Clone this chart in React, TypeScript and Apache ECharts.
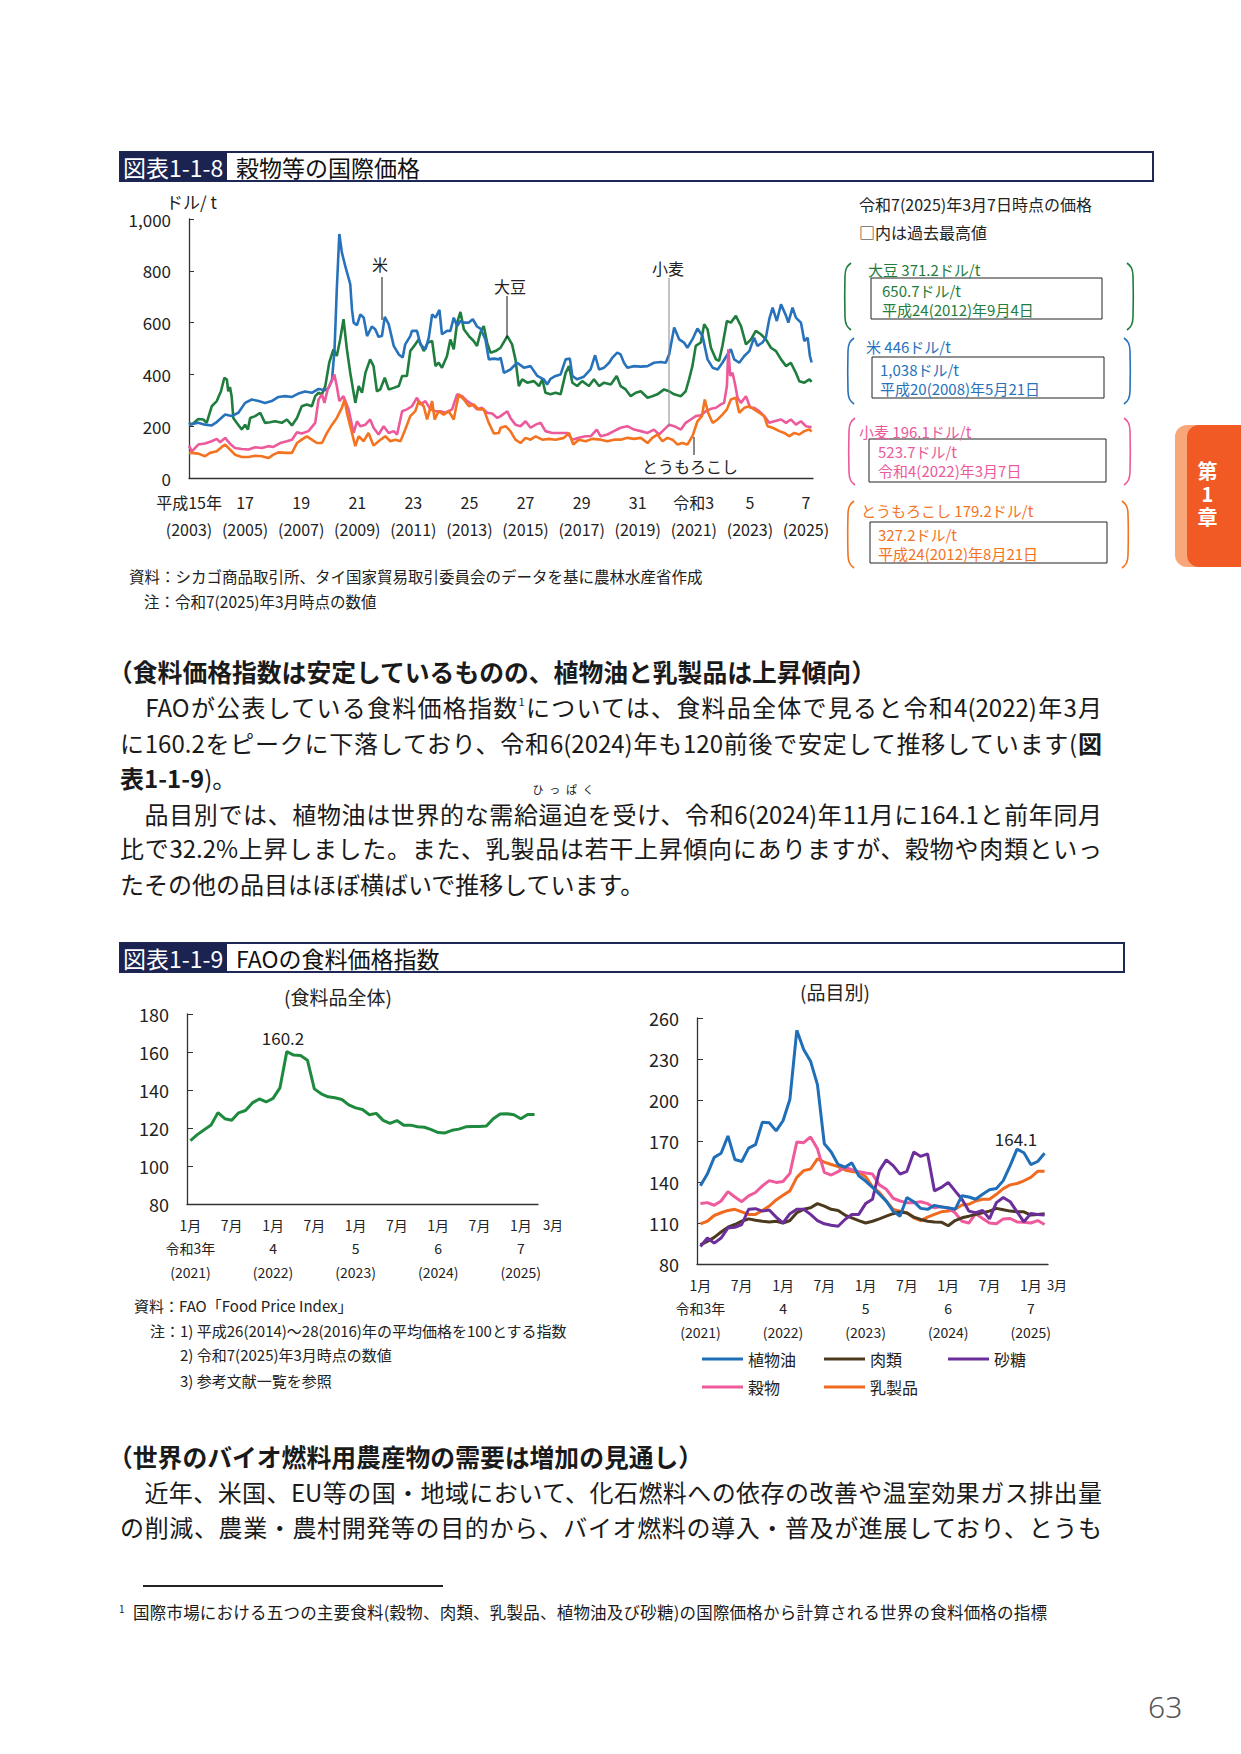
import React, { useEffect, useRef } from "react";
import * as echarts from "echarts";

const FONT = '"Noto Sans CJK JP", "Noto Sans", sans-serif';

// ---------------- 図表1-1-8 (USD/t, [decimal year, price]) ----------------
const RICE: [number, number][] = [
  [2003.0, 206], [2003.33, 213], [2003.57, 206], [2003.81, 203], [2003.99, 216], [2004.29, 245], [2004.52, 239],
  [2004.76, 252], [2005.0, 290], [2005.24, 303], [2005.48, 297], [2005.71, 290], [2005.95, 297], [2006.19, 313],
  [2006.43, 316], [2006.67, 313], [2006.9, 326], [2007.14, 334], [2007.38, 329], [2007.62, 344], [2007.86, 339],
  [2007.98, 348], [2008.1, 380], [2008.19, 497], [2008.27, 729], [2008.36, 942], [2008.45, 871], [2008.57, 819],
  [2008.75, 748], [2008.81, 652], [2008.87, 600], [2008.99, 590], [2009.11, 632], [2009.23, 619], [2009.35, 548],
  [2009.52, 585], [2009.64, 574], [2009.76, 545], [2009.88, 548], [2009.98, 622], [2010.12, 594], [2010.3, 510],
  [2010.48, 477], [2010.62, 465], [2010.71, 516], [2010.89, 548], [2010.95, 568], [2011.13, 568], [2011.25, 516],
  [2011.43, 497], [2011.55, 542], [2011.67, 632], [2011.79, 619], [2011.93, 649], [2012.02, 555], [2012.2, 568],
  [2012.32, 568], [2012.44, 619], [2012.56, 587], [2012.68, 606], [2012.8, 600], [2012.98, 600], [2013.12, 613],
  [2013.27, 585], [2013.39, 577], [2013.57, 535], [2013.69, 458], [2013.87, 461], [2014.05, 458], [2014.11, 465],
  [2014.23, 406], [2014.46, 419], [2014.7, 445], [2014.94, 426], [2015.18, 432], [2015.42, 394], [2015.65, 381],
  [2015.77, 361], [2015.89, 383], [2016.07, 394], [2016.25, 400], [2016.43, 458], [2016.58, 461], [2016.67, 394],
  [2016.84, 381], [2017.08, 391], [2017.32, 419], [2017.48, 474], [2017.62, 419], [2017.8, 426], [2017.98, 445],
  [2018.1, 465], [2018.27, 484], [2018.39, 477], [2018.51, 445], [2018.63, 426], [2018.87, 432], [2019.11, 430],
  [2019.35, 432], [2019.58, 445], [2019.82, 448], [2020.0, 445], [2020.12, 477], [2020.3, 581], [2020.48, 535],
  [2020.65, 523], [2020.77, 503], [2020.95, 535], [2021.13, 577], [2021.31, 548], [2021.49, 458], [2021.67, 426],
  [2021.85, 419], [2022.02, 445], [2022.2, 477], [2022.32, 497], [2022.44, 458], [2022.62, 445], [2022.8, 471],
  [2022.98, 490], [2023.15, 542], [2023.27, 510], [2023.45, 523], [2023.57, 542], [2023.69, 613], [2023.81, 658],
  [2023.96, 606], [2024.11, 671], [2024.29, 626], [2024.37, 600], [2024.52, 658], [2024.64, 619], [2024.82, 600],
  [2024.94, 529], [2025.06, 542], [2025.14, 471], [2025.2, 446],
];
const SOYBEAN: [number, number][] = [
  [2003.0, 213], [2003.1, 206], [2003.33, 228], [2003.51, 226], [2003.63, 213], [2003.81, 277], [2003.99, 297],
  [2004.14, 335], [2004.26, 387], [2004.35, 380], [2004.4, 335], [2004.46, 351], [2004.52, 316], [2004.58, 232],
  [2004.7, 213], [2004.88, 187], [2005.0, 206], [2005.1, 187], [2005.18, 232], [2005.36, 239], [2005.54, 252],
  [2005.71, 213], [2005.89, 215], [2006.07, 219], [2006.31, 213], [2006.49, 226], [2006.67, 203], [2006.85, 232],
  [2007.02, 277], [2007.2, 284], [2007.38, 277], [2007.5, 316], [2007.62, 329], [2007.74, 323], [2007.86, 355],
  [2008.0, 445], [2008.15, 497], [2008.27, 471], [2008.39, 535], [2008.51, 613], [2008.63, 497], [2008.75, 406],
  [2008.93, 290], [2009.05, 355], [2009.17, 329], [2009.29, 406], [2009.46, 458], [2009.58, 432], [2009.7, 335],
  [2009.82, 342], [2009.98, 387], [2010.12, 342], [2010.3, 348], [2010.48, 355], [2010.6, 394], [2010.77, 394],
  [2010.89, 490], [2011.07, 516], [2011.19, 535], [2011.37, 490], [2011.52, 523], [2011.67, 529], [2011.79, 432],
  [2011.9, 445], [2012.02, 426], [2012.2, 471], [2012.32, 535], [2012.44, 497], [2012.56, 600], [2012.68, 641],
  [2012.8, 574], [2012.98, 548], [2013.15, 529], [2013.27, 510], [2013.39, 561], [2013.51, 587], [2013.63, 523],
  [2013.75, 484], [2013.93, 490], [2014.11, 503], [2014.35, 548], [2014.52, 516], [2014.64, 458], [2014.76, 355],
  [2014.88, 381], [2015.06, 368], [2015.3, 374], [2015.48, 355], [2015.6, 381], [2015.71, 329], [2015.89, 323],
  [2016.07, 329], [2016.25, 323], [2016.43, 406], [2016.55, 432], [2016.67, 368], [2016.84, 355], [2017.02, 374],
  [2017.26, 355], [2017.44, 381], [2017.62, 355], [2017.8, 368], [2018.04, 361], [2018.25, 394], [2018.39, 355],
  [2018.57, 342], [2018.75, 316], [2018.93, 329], [2019.11, 335], [2019.35, 310], [2019.52, 316], [2019.7, 323],
  [2019.94, 342], [2020.12, 335], [2020.3, 323], [2020.54, 316], [2020.71, 335], [2020.83, 381], [2020.95, 432],
  [2021.07, 510], [2021.25, 523], [2021.37, 594], [2021.49, 574], [2021.61, 503], [2021.79, 458], [2021.9, 452],
  [2022.02, 510], [2022.18, 606], [2022.32, 600], [2022.5, 626], [2022.68, 587], [2022.86, 516], [2023.04, 535],
  [2023.21, 568], [2023.39, 555], [2023.57, 535], [2023.75, 503], [2023.93, 490], [2024.11, 458], [2024.29, 432],
  [2024.46, 445], [2024.64, 406], [2024.76, 374], [2024.94, 368], [2025.12, 381], [2025.2, 371],
];
const WHEAT: [number, number][] = [
  [2003.0, 125], [2003.1, 103], [2003.33, 129], [2003.57, 133], [2003.81, 142], [2003.99, 151], [2004.11, 138],
  [2004.29, 155], [2004.46, 132], [2004.64, 116], [2004.88, 112], [2005.12, 110], [2005.36, 119], [2005.6, 116],
  [2005.83, 123], [2006.01, 120], [2006.25, 135], [2006.49, 142], [2006.67, 148], [2006.85, 177], [2007.02, 172],
  [2007.26, 181], [2007.5, 213], [2007.62, 303], [2007.74, 323], [2007.83, 290], [2007.95, 345], [2008.07, 368],
  [2008.18, 400], [2008.27, 355], [2008.36, 297], [2008.51, 316], [2008.69, 265], [2008.87, 174], [2008.99, 219],
  [2009.11, 200], [2009.29, 206], [2009.46, 226], [2009.58, 194], [2009.76, 168], [2009.94, 200], [2010.12, 174],
  [2010.3, 181], [2010.42, 168], [2010.6, 258], [2010.77, 265], [2010.95, 277], [2011.13, 310], [2011.25, 284],
  [2011.43, 297], [2011.61, 265], [2011.79, 258], [2011.96, 258], [2012.14, 252], [2012.38, 265], [2012.56, 323],
  [2012.74, 316], [2012.92, 297], [2013.1, 284], [2013.27, 265], [2013.45, 271], [2013.63, 252], [2013.81, 249],
  [2013.99, 232], [2014.11, 239], [2014.35, 258], [2014.46, 232], [2014.64, 206], [2014.82, 200], [2015.0, 219],
  [2015.18, 194], [2015.36, 206], [2015.54, 213], [2015.71, 181], [2015.95, 174], [2016.25, 174], [2016.49, 174],
  [2016.67, 148], [2016.9, 155], [2017.14, 161], [2017.32, 161], [2017.54, 187], [2017.68, 161], [2017.92, 168],
  [2018.15, 181], [2018.39, 194], [2018.63, 200], [2018.87, 187], [2019.11, 181], [2019.35, 174], [2019.58, 187],
  [2019.76, 168], [2019.94, 187], [2020.12, 206], [2020.3, 200], [2020.54, 187], [2020.71, 213], [2020.89, 226],
  [2021.07, 239], [2021.25, 242], [2021.43, 258], [2021.61, 267], [2021.79, 271], [2021.96, 284], [2022.08, 290],
  [2022.18, 355], [2022.23, 497], [2022.3, 394], [2022.38, 406], [2022.46, 368], [2022.56, 310], [2022.68, 290],
  [2022.86, 316], [2023.01, 271], [2023.15, 271], [2023.33, 258], [2023.51, 239], [2023.69, 213], [2023.87, 219],
  [2024.11, 226], [2024.29, 213], [2024.46, 226], [2024.64, 206], [2024.82, 219], [2025.0, 200], [2025.2, 196],
];
const CORN: [number, number][] = [
  [2003.0, 97], [2003.1, 97], [2003.33, 94], [2003.57, 84], [2003.75, 97], [2003.99, 103], [2004.17, 120],
  [2004.29, 129], [2004.46, 110], [2004.64, 90], [2004.88, 81], [2005.12, 81], [2005.36, 86], [2005.6, 84],
  [2005.83, 77], [2006.01, 90], [2006.19, 99], [2006.43, 97], [2006.67, 97], [2006.85, 135], [2007.02, 148],
  [2007.2, 161], [2007.38, 148], [2007.56, 135], [2007.74, 135], [2007.92, 174], [2008.1, 206], [2008.27, 232],
  [2008.45, 271], [2008.55, 303], [2008.63, 252], [2008.75, 200], [2008.93, 123], [2009.05, 161], [2009.23, 142],
  [2009.4, 174], [2009.58, 125], [2009.76, 142], [2010.0, 161], [2010.18, 142], [2010.36, 148], [2010.54, 142],
  [2010.71, 187], [2010.89, 239], [2011.07, 258], [2011.19, 297], [2011.37, 277], [2011.49, 226], [2011.67, 297],
  [2011.76, 226], [2011.9, 258], [2012.08, 245], [2012.26, 258], [2012.44, 226], [2012.52, 271], [2012.62, 323],
  [2012.8, 303], [2012.98, 277], [2013.15, 284], [2013.33, 265], [2013.51, 265], [2013.69, 213], [2013.87, 172],
  [2014.05, 174], [2014.11, 194], [2014.29, 200], [2014.46, 181], [2014.64, 148], [2014.82, 135], [2015.0, 155],
  [2015.18, 148], [2015.36, 161], [2015.6, 148], [2015.83, 151], [2016.07, 148], [2016.37, 155], [2016.55, 174],
  [2016.7, 129], [2016.9, 148], [2017.14, 142], [2017.38, 151], [2017.68, 148], [2017.92, 142], [2018.15, 148],
  [2018.39, 148], [2018.63, 155], [2018.87, 151], [2019.11, 155], [2019.35, 135], [2019.52, 155], [2019.7, 168],
  [2019.88, 142], [2020.06, 155], [2020.24, 148], [2020.42, 129], [2020.59, 135], [2020.77, 129], [2020.95, 161],
  [2021.13, 219], [2021.29, 239], [2021.39, 303], [2021.51, 252], [2021.67, 213], [2021.85, 226], [2022.02, 245],
  [2022.18, 265], [2022.32, 303], [2022.5, 310], [2022.62, 252], [2022.8, 271], [2022.98, 277], [2023.15, 265],
  [2023.33, 252], [2023.51, 239], [2023.63, 200], [2023.81, 194], [2024.05, 181], [2024.23, 174], [2024.4, 161],
  [2024.58, 174], [2024.76, 168], [2024.94, 181], [2025.12, 187], [2025.2, 179],
];
const YEAR_TICKS = [2003, 2005, 2007, 2009, 2011, 2013, 2015, 2017, 2019, 2021, 2023, 2025];
const ERA_LABELS = ["平成15年", "17", "19", "21", "23", "25", "27", "29", "31", "令和3", "5", "7"];

// ---------------- 図表1-1-9 (FAO index, monthly Jan 2021 – Mar 2025) ----------------
const FOOD_INDEX = [
  113.4, 116.5, 119.1, 121.6, 128.1, 124.9, 124.1, 128.0, 129.2, 133.2, 135.3, 133.7,
  135.6, 141.1, 160.2, 158.4, 158.1, 155.7, 140.6, 138.0, 136.4, 135.9, 135.0, 132.2,
  130.6, 129.7, 127.0, 127.7, 124.0, 122.4, 123.9, 121.4, 121.5, 120.7, 120.4, 119.1,
  117.6, 117.4, 118.8, 119.4, 120.6, 120.8, 120.8, 121.0, 124.9, 127.4, 127.5, 127.0,
  124.9, 127.1, 127.1,
];
const VEG_OIL = [
  137.2, 145.8, 158, 161, 173.7, 156.5, 155, 164.8, 167.3, 183.8, 183.3, 177.4,
  184.8, 200.6, 251, 237, 228.4, 211.2, 168, 161.9, 152.8, 150.8, 154, 144.6,
  140.7, 136, 131, 126, 118.7, 115, 128.6, 125.6, 120.7, 120, 122.9, 121.7,
  121.2, 120, 130, 129, 127.4, 131, 134.3, 135.2, 141, 152, 164.1, 161.4,
  152.8, 155, 161,
];
const MEAT = [
  94, 96.5, 99.5, 103.4, 106.9, 108.9, 111.3, 113, 112, 111.3, 110.8, 111.3,
  110, 111.8, 117.5, 120, 121.2, 124.2, 122.4, 120, 119.2, 115.8, 113.8, 111.8,
  110, 111.3, 113, 115, 116.8, 118, 117.3, 114.3, 112.6, 111.3, 110.8, 110.6,
  108, 111.8, 113.8, 115, 116.3, 117.5, 118.7, 120.7, 119.7, 118.7, 118.2, 118.2,
  115.8, 116.3, 116.8,
];
const SUGAR = [
  92.8, 99, 95.3, 99, 106.4, 106.9, 108.9, 120, 120.5, 118.7, 119.5, 114.3,
  110, 116.8, 120, 120, 116.3, 111.8, 109.4, 108.4, 107.6, 112.6, 116.3, 116.3,
  124.2, 127.4, 148.3, 156.2, 152, 145.8, 147.8, 161.9, 158.7, 160.6, 133.5, 136,
  139.7, 133.5, 127.4, 118.7, 117.5, 119.2, 113, 124.9, 128.6, 125.6, 118.2, 110.8,
  117, 116.3, 115.8,
];
const CEREALS = [
  124.2, 124.9, 123, 126.1, 133, 129, 125.6, 129.8, 132.3, 137.2, 141, 139.7,
  140.4, 146.3, 169.3, 168.8, 173, 164.3, 147.1, 145.1, 147.6, 150.8, 149.1, 147.6,
  146.6, 145.8, 137.9, 134.7, 128.1, 126.1, 124.9, 124.9, 125.6, 124.2, 121.2, 122,
  120.7, 117.5, 111.3, 110, 116.8, 113.3, 110, 109.4, 113, 113.3, 110.8, 110.6,
  110, 111.8, 108.9,
];
const DAIRY = [
  109.4, 111.3, 115.5, 117.5, 119.2, 120, 118.2, 116.3, 116.3, 119.2, 122.4, 126.9,
  130.3, 133.5, 143.4, 148.3, 149.5, 156.9, 154.5, 152.8, 151.3, 148.8, 147.6, 147.1,
  143.9, 136.5, 132.3, 126.1, 120, 118.7, 117.5, 113.8, 111.8, 114.3, 116.3, 118.2,
  118.7, 120, 123.2, 123.7, 126.1, 127.4, 127.4, 131, 135.2, 137.9, 138.9, 140.9,
  143.4, 147.8, 147.8,
];
const MONTHS: string[] = [];
for (let y = 2021; y <= 2025; y++) for (let m = 1; m <= 12; m++) if (y < 2025 || m <= 3) MONTHS.push(`${y}-${m}`);
const MONTH_AXIS_TEXT: Record<number, string> = {
  0: "1月\n令和3年\n(2021)", 6: "7月", 12: "1月\n4\n(2022)", 18: "7月", 24: "1月\n5\n(2023)",
  30: "7月", 36: "1月\n6\n(2024)", 42: "7月", 48: "1月\n7\n(2025)",
};
const LAST_MONTH_LABEL = "3月";
const CAT_TICKS = [80, 110, 140, 170, 200, 230, 260];

const C = {
  soy: "#1f7d3d", rice: "#2872bc", wheat: "#ec5a9b", corn: "#f3731f",
  food: "#1e8a3e", oil: "#1f6fb8", meat: "#4b3a1e", sugar: "#6c2e9b", cereal: "#ee5a9c", dairy: "#f06b1f",
  navy: "#1d2857",
};

function txt(x: number, y: number, text: string, o: any = {}) {
  return {
    type: "text", x, y, silent: true, z: 10,
    style: {
      text, fill: o.fill || "#222", fontSize: o.size || 16, fontFamily: FONT,
      fontWeight: o.weight || "normal", align: o.align || "left", verticalAlign: "middle",
    },
  };
}
function rect(x: number, y: number, w: number, h: number, style: any) {
  return { type: "rect", silent: true, z: 5, shape: { x, y, width: w, height: h }, style };
}
function seg(x1: number, y1: number, x2: number, y2: number, stroke = "#111", lw = 1) {
  return { type: "line", silent: true, z: 9, shape: { x1, y1, x2, y2 }, style: { stroke, lineWidth: lw } };
}
function bracket(x: number, top: number, bottom: number, color: string, dir: number) {
  const d = dir; // 1: left "(", -1: right ")"
  return {
    type: "polyline", silent: true, z: 9,
    shape: { points: [[x + 6 * d, top], [x + 1.5 * d, top + 5], [x, top + 13], [x, bottom - 13], [x + 1.5 * d, bottom - 5], [x + 6 * d, bottom]], smooth: 0.4 },
    style: { stroke: color, lineWidth: 1.6, fill: "none" },
  };
}
function header(y: number, right: number, label: string, title: string) {
  return [
    rect(120, y, right - 120, 29, { fill: "#fff", stroke: C.navy, lineWidth: 2 }),
    rect(120, y, 107, 29, { fill: "#1b2450" }),
    txt(123, y + 15, label, { fill: "#fff", size: 23 }),
    txt(236, y + 15, title, { fill: "#111", size: 23 }),
  ];
}
function priceBox(top: number, bottom: number, lx: number, rx: number, color: string, head: [number, number, string],
  box: [number, number, number, number], l1: string, l2: string, tx: number) {
  return [
    bracket(lx, top, bottom, color, 1),
    bracket(rx, top, bottom, color, -1),
    txt(head[0], head[1], head[2], { fill: color, size: 15 }),
    rect(box[0], box[1], box[2] - box[0], box[3] - box[1], { fill: "none", stroke: "#222", lineWidth: 1 }),
    txt(tx, box[1] + 12, l1, { fill: color, size: 15 }),
    txt(tx, box[1] + 31, l2, { fill: color, size: 15 }),
  ];
}

function buildOption(): any {
  const monthAxis = (gridIndex: number) => ({
    type: "category", gridIndex, data: MONTHS, boundaryGap: true,
    axisLine: { lineStyle: { color: "#333", width: 1.3 } }, axisTick: { show: false },
    axisLabel: {
      interval: (i: number) => MONTH_AXIS_TEXT[i] !== undefined,
      formatter: (_v: string, i: number) => MONTH_AXIS_TEXT[i] || "",
      fontSize: 14, lineHeight: 23.5, margin: 9, color: "#222", fontFamily: FONT,
    },
  });
  const line = (name: string, data: any, color: string, xi: number, w: number) => ({
    name, type: "line", data, xAxisIndex: xi, yAxisIndex: xi, showSymbol: false, symbol: "none",
    lineStyle: { color, width: w }, itemStyle: { color }, silent: true,
  });
  const graphic: any[] = [
    ...header(152, 1153, "図表1-1-8", "穀物等の国際価格"),
    txt(166, 201, "ドル/ t", { size: 17 }),
    txt(380, 264, "米", { size: 16, align: "center" }), seg(382, 277, 382, 320),
    txt(510, 286, "大豆", { size: 16, align: "center" }), seg(507, 296, 507, 338),
    txt(668, 268, "小麦", { size: 16, align: "center" }), seg(669, 278, 669, 427, "#888"),
    txt(690, 466, "とうもろこし", { size: 16, align: "center" }), seg(694, 437, 694, 455),
    txt(859, 204, "令和7(2025)年3月7日時点の価格", { size: 16 }),
    txt(859, 232, "□内は過去最高値", { size: 16 }),
    ...priceBox(263, 330, 845, 1133, C.soy, [868, 269, "大豆 371.2ドル/t"], [871, 278, 1102, 319], "650.7ドル/t", "平成24(2012)年9月4日", 882),
    ...priceBox(338, 404, 848, 1130, C.rice, [866, 346, "米 446ドル/t"], [872, 357, 1104, 398], "1,038ドル/t", "平成20(2008)年5月21日", 880),
    ...priceBox(418, 485, 849, 1130, C.wheat, [859, 431, "小麦 196.1ドル/t"], [869, 439, 1106, 482], "523.7ドル/t", "令和4(2022)年3月7日", 878),
    ...priceBox(501, 568, 848, 1128, C.corn, [861, 510, "とうもろこし 179.2ドル/t"], [870, 522, 1107, 563], "327.2ドル/t", "平成24(2012)年8月21日", 878),
    txt(129, 576, "資料：シカゴ商品取引所、タイ国家貿易取引委員会のデータを基に農林水産省作成", { size: 15.5 }),
    txt(144, 601, "注：令和7(2025)年3月時点の数値", { size: 15.5 }),
    ...header(943, 1124, "図表1-1-9", "FAOの食料価格指数"),
    txt(338, 996, "(食料品全体)", { size: 19, align: "center" }),
    txt(283, 1037, "160.2", { size: 17, align: "center" }),
    txt(835, 991, "(品目別)", { size: 19, align: "center" }),
    txt(1016, 1138, "164.1", { size: 17, align: "center" }),
    txt(553, 1224, LAST_MONTH_LABEL, { size: 13, align: "center" }),
    txt(1057, 1284, LAST_MONTH_LABEL, { size: 13, align: "center" }),
    txt(134, 1305, "資料：FAO「Food Price Index」", { size: 15 }),
    txt(150, 1330, "注：1) 平成26(2014)～28(2016)年の平均価格を100とする指数", { size: 15 }),
    txt(180, 1354, "2) 令和7(2025)年3月時点の数値", { size: 15 }),
    txt(180, 1380, "3) 参考文献一覧を参照", { size: 15 }),
  ];
  const leg = (name: string, left: number, top: number) => ({
    left, top, data: [name], itemWidth: 41, itemHeight: 3, itemGap: 0, icon: "rect", selectedMode: false,
    textStyle: { fontSize: 16, color: "#222", fontFamily: FONT },
  });
  return {
    animation: false,
    textStyle: { fontFamily: FONT },
    grid: [
      { left: 189, top: 219, width: 624, height: 259 },
      { left: 187, top: 1014, width: 351, height: 190 },
      { left: 697, top: 1018, width: 351, height: 246 },
    ],
    xAxis: [
      {
        type: "value", gridIndex: 0, min: 2003, max: 2025.25,
        axisLine: { show: true, lineStyle: { color: "#333", width: 1.3 } }, axisTick: { show: false }, splitLine: { show: false },
        axisLabel: {
          customValues: YEAR_TICKS, fontSize: 16, lineHeight: 27, margin: 10, color: "#222", fontFamily: FONT,
          formatter: (v: number) => {
            const i = YEAR_TICKS.indexOf(Math.round(v));
            return i < 0 ? "" : `${ERA_LABELS[i]}\n(${YEAR_TICKS[i]})`;
          },
        },
      },
      monthAxis(1),
      monthAxis(2),
    ],
    yAxis: [
      {
        type: "value", gridIndex: 0, min: 0, max: 1000, interval: 200,
        axisLine: { show: true, lineStyle: { color: "#333", width: 1.3 } },
        axisTick: { show: true, inside: true, length: 5, lineStyle: { color: "#333" } }, splitLine: { show: false },
        axisLabel: { fontSize: 17, margin: 18, color: "#222", fontFamily: FONT, formatter: (v: number) => v.toLocaleString("en-US") },
      },
      {
        type: "value", gridIndex: 1, min: 80, max: 180, interval: 20,
        axisLine: { show: true, lineStyle: { color: "#333", width: 1.3 } },
        axisTick: { show: true, inside: true, length: 6, lineStyle: { color: "#333" } }, splitLine: { show: false },
        axisLabel: { fontSize: 18, margin: 18, color: "#222", fontFamily: FONT },
      },
      {
        type: "value", gridIndex: 2, min: 80, max: 260,
        axisLine: { show: true, lineStyle: { color: "#333", width: 1.3 } },
        axisTick: { show: true, inside: true, length: 6, customValues: CAT_TICKS, lineStyle: { color: "#333" } }, splitLine: { show: false },
        axisLabel: { customValues: CAT_TICKS, fontSize: 18, margin: 18, color: "#222", fontFamily: FONT },
      },
    ],
    legend: [
      leg("植物油", 697, 1346), leg("肉類", 819, 1346), leg("砂糖", 943, 1346),
      leg("穀物", 697, 1374), leg("乳製品", 819, 1374),
    ],
    series: [
      line("大豆", SOYBEAN, C.soy, 0, 2.6),
      line("米", RICE, C.rice, 0, 2.6),
      line("小麦", WHEAT, C.wheat, 0, 2.6),
      line("とうもろこし", CORN, C.corn, 0, 2.6),
      line("食料品全体", FOOD_INDEX, C.food, 1, 3),
      line("乳製品", DAIRY, C.dairy, 2, 3),
      line("穀物", CEREALS, C.cereal, 2, 3),
      line("肉類", MEAT, C.meat, 2, 3),
      line("砂糖", SUGAR, C.sugar, 2, 3),
      line("植物油", VEG_OIL, C.oil, 2, 3),
    ],
    graphic,
  };
}

const lineBox = (cy: number, fs: number, lh: number) => cy - lh / 2 - fs * 0.06;

function Line(props: { cy: number; fs?: number; justify?: boolean; bold?: boolean; left?: number; width?: number; children: any }) {
  const fs = props.fs || 24;
  const lh = Math.round(fs * 1.3);
  const j = props.justify !== false;
  return (
    <div style={{
      position: "absolute", left: props.left ?? 120, top: lineBox(props.cy, fs, lh), width: props.width ?? 982,
      height: lh, lineHeight: lh + "px", fontSize: fs, fontWeight: props.bold ? 700 : 400,
      textAlign: j ? "justify" : "left", textAlignLast: j ? "justify" : "left", color: "#1a1a1a", fontFamily: FONT,
    } as any}>{props.children}</div>
  );
}

export default function App() {
  const ref = useRef<HTMLDivElement>(null);
  useEffect(() => {
    if (!ref.current) return;
    const chart = echarts.init(ref.current, undefined, { renderer: "svg" });
    chart.setOption(buildOption());
    return () => chart.dispose();
  }, []);
  const sup = { fontSize: 11, verticalAlign: "top", lineHeight: "20px" } as any;
  return (
    <div style={{ position: "absolute", left: 0, top: 0, width: 1241, height: 1754, overflow: "hidden", background: "#fff", fontFamily: FONT }}>
      <div ref={ref} style={{ position: "absolute", left: 0, top: 0, width: 1241, height: 1754 }} />
      <Line cy={672} fs={24.8} bold justify={false} left={108} width={1000}>（食料価格指数は安定しているものの、植物油と乳製品は上昇傾向）</Line>
      <Line cy={708}>　FAOが公表している食料価格指数<span style={sup}>1</span>については、食料品全体で見ると令和4(2022)年3月</Line>
      <Line cy={744}>に160.2をピークに下落しており、令和6(2024)年も120前後で安定して推移しています(<b>図</b></Line>
      <Line cy={779} justify={false}><b>表1-1-9</b>)。</Line>
      <Line cy={815}>　品目別では、植物油は世界的な需給<span style={{ position: "relative" }}>逼迫<span style={{ position: "absolute", left: -6, right: -6, top: -13, fontSize: 11, lineHeight: "12px", textAlign: "center", whiteSpace: "nowrap" } as any}>ひっぱく</span></span>を受け、令和6(2024)年11月に164.1と前年同月</Line>
      <Line cy={849}>比で32.2%上昇しました。また、乳製品は若干上昇傾向にありますが、穀物や肉類といっ</Line>
      <Line cy={885} justify={false}>たその他の品目はほぼ横ばいで推移しています。</Line>
      <Line cy={1457} fs={24.8} bold justify={false} left={108} width={1000}>（世界のバイオ燃料用農産物の需要は増加の見通し）</Line>
      <Line cy={1493}>　近年、米国、EU等の国・地域において、化石燃料への依存の改善や温室効果ガス排出量</Line>
      <Line cy={1528}>の削減、農業・農村開発等の目的から、バイオ燃料の導入・普及が進展しており、とうも</Line>
      <div style={{ position: "absolute", left: 143, top: 1585, width: 300, height: 1.5, background: "#222" }} />
      <div style={{ position: "absolute", left: 119, top: 1601, fontSize: 10, color: "#222" }}>1</div>
      <Line cy={1613} fs={16.5} left={133} width={914}>国際市場における五つの主要食料(穀物、肉類、乳製品、植物油及び砂糖)の国際価格から計算される世界の食料価格の指標</Line>
      <div style={{ position: "absolute", left: 1148, top: 1689, fontSize: 30, lineHeight: "36px", color: "#555", fontFamily: '"Noto Sans", sans-serif', fontWeight: 300 }}>63</div>
      <div style={{ position: "absolute", left: 1175, top: 425, width: 90, height: 142, background: "#f8a77b", borderRadius: 12 }} />
      <div style={{ position: "absolute", left: 1187, top: 425, width: 80, height: 142, background: "#f15a24", borderRadius: 12 }} />
      <div style={{
        position: "absolute", left: 1192, top: 461, width: 30, height: 70, writingMode: "vertical-rl", textOrientation: "upright",
        fontSize: 20, lineHeight: "30px", letterSpacing: "3px", color: "#fff", fontWeight: 700,
      } as any}>第1章</div>
    </div>
  );
}
